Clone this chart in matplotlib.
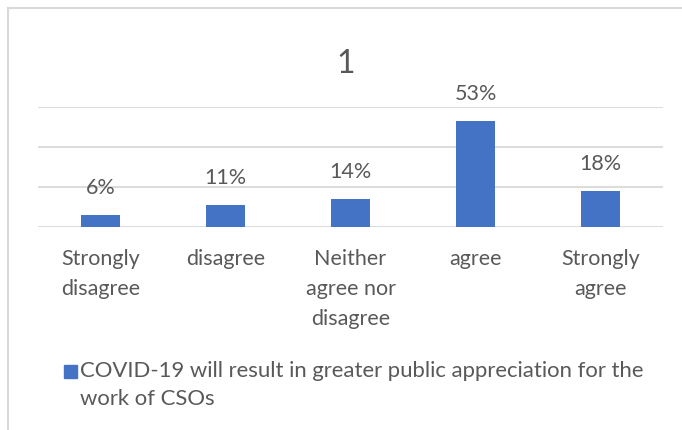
import matplotlib.pyplot as plt
from matplotlib.patches import Rectangle

categories = ['Strongly\ndisagree', 'disagree', 'Neither\nagree nor\ndisagree', 'agree', 'Strongly\nagree']
values = [6, 11, 14, 53, 18]
series_name = 'COVID-19 will result in greater public appreciation for the\nwork of CSOs'
title = '1'

plt.rcParams['font.family'] = ['Lato', 'DejaVu Sans']
text_col = '#595959'
grid_col = '#d9d9d9'
bar_col = '#4472c4'

fig = plt.figure(figsize=(6.82, 4.30), dpi=100)
W, H = 682, 430
# axes in pixel terms: x 38..663, y 107..226
ax = fig.add_axes([38 / W, (H - 226.5) / H, 625 / W, 119.5 / H])

x = range(len(categories))
ax.bar(x, values, width=0.31, color=bar_col, zorder=3)
ax.set_xlim(-0.5, len(categories) - 0.5)
ax.set_ylim(0, 60)
ax.set_yticks([0, 20, 40, 60])
ax.yaxis.grid(True, color=grid_col, linewidth=1.3, zorder=0)
ax.tick_params(axis='y', left=False, labelleft=False)
ax.tick_params(axis='x', bottom=False, pad=13)
ax.set_xticks(list(x))
ax.set_xticklabels(categories, fontsize=15.5, color=text_col, linespacing=1.62, va='top')
for s in ax.spines.values():
    s.set_visible(False)

for i, v in enumerate(values):
    ax.annotate(f'{v}%', (i, v), xytext=(0, 12), textcoords='offset points',
                ha='center', va='bottom', fontsize=15.5, color=text_col)

fig.text(346 / W, 1 - 64 / H, title, ha='center', va='center', fontsize=23, color=text_col)

# legend
fig.patches.append(Rectangle((64 / W, 1 - 378 / H), 13 / W, 13 / H,
                             transform=fig.transFigure, color=bar_col))
fig.text(80 / W, 1 - 361 / H, series_name, ha='left', va='top', fontsize=15.9,
         color=text_col, linespacing=1.5)

# chart area border
fig.add_artist(plt.Line2D([7.5 / W, 7.5 / W], [0, 1 - 8 / H], color=grid_col, linewidth=1.5,
                          transform=fig.transFigure))
fig.add_artist(plt.Line2D([7.5 / W, 1], [1 - 8 / H, 1 - 8 / H], color=grid_col, linewidth=1.5,
                          transform=fig.transFigure))

fig.savefig('out.png', dpi=100)
